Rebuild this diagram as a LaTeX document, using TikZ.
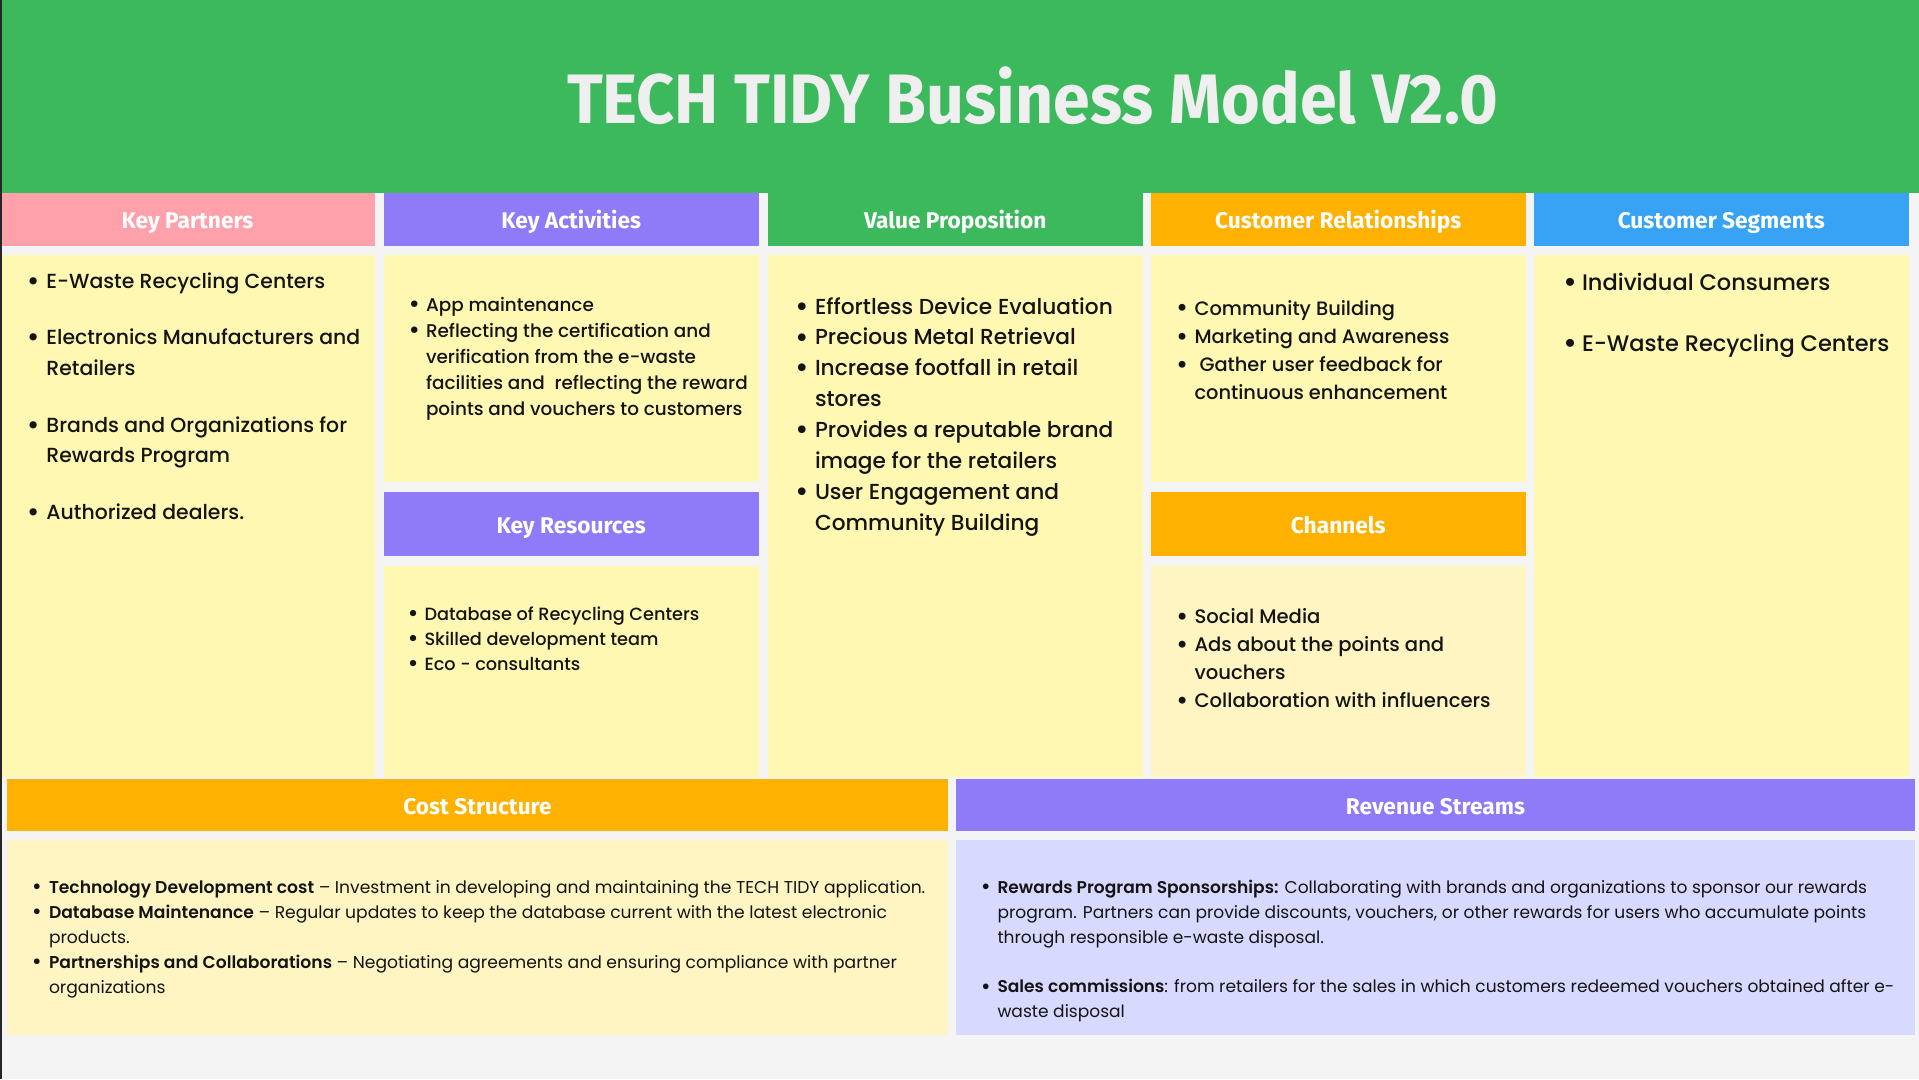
\documentclass[tikz,border=0pt]{standalone}
\usepackage{fontspec}
\usepackage{graphicx}
\setmainfont{Poppins}
\newfontfamily\medfont{Poppins Medium}
\newfontfamily\semifont{Poppins SemiBold}
\newfontfamily\headfont{Fira Sans}
\newfontfamily\titlefont[FakeStretch=0.947]{Fira Sans}

\definecolor{pagebg}{HTML}{F4F4F4}
\definecolor{topgreen}{HTML}{3CB95D}
\definecolor{kpink}{HTML}{FFA1AB}
\definecolor{kpurple}{HTML}{8F7AF8}
\definecolor{korange}{HTML}{FFB100}
\definecolor{kblue}{HTML}{38A3F5}
\definecolor{cellyellow}{HTML}{FFF8B2}
\definecolor{cellcream}{HTML}{FFF5C3}
\definecolor{celllav}{HTML}{D8D9FF}
\definecolor{titlegrey}{HTML}{EFEFEF}
\definecolor{ink}{HTML}{141414}

% bullet with hanging indent, and the indent for wrapped lines
\newcommand{\bul}[2]{\makebox[#1][l]{\raisebox{-0.1em}{\scalebox{1.35}{\textbullet}}}#2}
\newcommand{\ind}[1]{\hspace*{#1}}
\newcommand{\keyterm}[1]{{\semifont #1}}

\tikzset{
  box/.style={rectangle, inner sep=0pt, outer sep=0pt, anchor=north west, draw=none},
  hdr/.style={box, text=white, align=center,
    font=\headfont\bfseries\fontsize{22.7}{26}\selectfont,
    text height=18pt, text depth=0pt},
  % multi-line lists are anchored on the baseline of their last line
  items/.style={anchor=base west, inner sep=0pt, outer sep=0pt, align=left, text=ink},
}

\begin{document}
\begin{tikzpicture}[x=1pt, y=-1pt]
\useasboundingbox (0,0) rectangle (1919,1079);
\fill[pagebg] (0,0) rectangle (1919,1079);

% banner and title
\node[box, fill=topgreen, minimum width=1919pt, minimum height=193pt] (banner) at (0,0) {};
\node[anchor=base, inner sep=0pt, text=titlegrey,
      font=\titlefont\bfseries\fontsize{70}{80}\selectfont] (title) at (1032.5,123.3)
      {TECH TIDY Business Model V2.0};

% column headers
\node[hdr, fill=kpink,    minimum width=375pt,   minimum height=52.5pt] (kph) at (0,193)    {Key Partners};
\node[hdr, fill=kpurple,  minimum width=374.5pt, minimum height=52.5pt] (kah) at (384,193)  {Key Activities};
\node[hdr, fill=topgreen, minimum width=374.5pt, minimum height=52.5pt] (vph) at (768,193)  {Value Proposition};
\node[hdr, fill=korange,  minimum width=374.5pt, minimum height=52.5pt] (crh) at (1151,193) {Customer Relationships};
\node[hdr, fill=kblue,    minimum width=374.5pt, minimum height=52.5pt] (csh) at (1534,193) {Customer Segments};

% column bodies
\node[box, fill=cellyellow, minimum width=375pt,   minimum height=522pt] (kpb) at (0,255)    {};
\node[box, fill=cellyellow, minimum width=374.5pt, minimum height=227pt] (kab) at (384,255)  {};
\node[hdr, fill=kpurple,    minimum width=374.5pt, minimum height=64pt]  (krh) at (384,492)  {Key Resources};
\node[box, fill=cellyellow, minimum width=374.5pt, minimum height=211pt] (krb) at (384,566)  {};
\node[box, fill=cellyellow, minimum width=374.5pt, minimum height=522pt] (vpb) at (768,255)  {};
\node[box, fill=cellyellow, minimum width=374.5pt, minimum height=227pt] (crb) at (1151,255) {};
\node[hdr, fill=korange,    minimum width=374.5pt, minimum height=64pt]  (chh) at (1151,492) {Channels};
\node[box, fill=cellcream,  minimum width=374.5pt, minimum height=211pt] (chb) at (1151,566) {};
\node[box, fill=cellyellow, minimum width=374.5pt, minimum height=522pt] (csb) at (1534,255) {};

% bottom row
\node[hdr, fill=korange, minimum width=941pt, minimum height=52pt]  (cshd) at (7,779)   {Cost Structure};
\node[box, fill=cellcream, minimum width=941pt, minimum height=195pt] (csbd) at (7,840) {};
\node[hdr, fill=kpurple, minimum width=959pt, minimum height=52pt]  (rsh) at (956,779)  {Revenue Streams};
\node[box, fill=celllav, minimum width=959pt, minimum height=195pt] (rsb) at (956,840)  {};

% left edge rule
\fill[black!85] (0,0) rectangle (1.6,1079);

% ---- texts ----
\node[items, font=\medfont\fontsize{20.4}{30.6}\selectfont] (kpt) at (27,519.2) {%
\bul{19.5pt}{E-Waste Recycling Centers}\\[26pt]
\bul{19.5pt}{Electronics Manufacturers and}\\
\ind{19.5pt}Retailers\\[26pt]
\bul{19.5pt}{Brands and Organizations for}\\
\ind{19.5pt}Rewards Program\\[26pt]
\bul{19.5pt}{Authorized dealers.}};

\node[items, font=\medfont\fontsize{18.4}{26}\selectfont] (kat) at (408.5,415) {%
\bul{17.5pt}{App maintenance}\\
\bul{17.5pt}{Reflecting the certification and}\\
\ind{17.5pt}verification from the e-waste\\
\ind{17.5pt}facilities and\hspace{5pt} reflecting the reward\\
\ind{17.5pt}points and vouchers to customers};

\node[items, font=\medfont\fontsize{17.7}{25}\selectfont] (krt) at (407.5,670) {%
\bul{17pt}{Database of Recycling Centers}\\
\bul{17pt}{Skilled development team}\\
\bul{17pt}{Eco - consultants}};

\node[items, font=\medfont\fontsize{21.7}{30.9}\selectfont] (vpt) at (795,530.3) {%
\bul{20pt}{Effortless Device Evaluation}\\
\bul{20pt}{Precious Metal Retrieval}\\
\bul{20pt}{Increase footfall in retail}\\
\ind{20pt}stores\\
\bul{20pt}{Provides a reputable brand}\\
\ind{20pt}image for the retailers\\
\bul{20pt}{User Engagement and}\\
\ind{20pt}Community Building};

\node[items, font=\medfont\fontsize{19.4}{28.2}\selectfont] (crt) at (1176,399.6) {%
\bul{18.5pt}{Community Building}\\
\bul{18.5pt}{Marketing and Awareness}\\
\bul{18.5pt}{\hspace*{5pt}Gather user feedback for}\\
\ind{18.5pt}continuous enhancement};

\node[items, font=\medfont\fontsize{19.6}{28}\selectfont] (cht) at (1176,707.5) {%
\bul{18.5pt}{Social Media}\\
\bul{18.5pt}{Ads about the points and}\\
\ind{18.5pt}vouchers\\
\bul{18.5pt}{Collaboration with influencers}};

\node[items, font=\medfont\fontsize{22.5}{30}\selectfont] (cst) at (1563.5,351) {%
\bul{18.5pt}{Individual Consumers}\\[31pt]
\bul{18.5pt}{E-Waste Recycling Centers}};

\node[items, font=\fontsize{17.15}{25}\selectfont] (cost) at (32,993) {%
\bul{17pt}{\keyterm{Technology Development cost} – Investment in developing and maintaining the TECH TIDY application.}\\
\bul{17pt}{\keyterm{Database Maintenance} – Regular updates to keep the database current with the latest electronic}\\
\ind{17pt}products.\\
\bul{17pt}{\keyterm{Partnerships and Collaborations} – Negotiating agreements and ensuring compliance with partner}\\
\ind{17pt}organizations};

\node[items, font=\fontsize{17.05}{25}\selectfont] (rev) at (981,1017.3) {%
\bul{16.5pt}{\keyterm{Rewards Program Sponsorships:} Collaborating with brands and organizations to sponsor our rewards}\\
\ind{16.5pt}program. Partners can provide discounts, vouchers, or other rewards for users who accumulate points\\
\ind{16.5pt}through responsible e-waste disposal.\\[24.3pt]
\bul{16.5pt}{\keyterm{Sales commissions}: from retailers for the sales in which customers redeemed vouchers obtained after e-}\\
\ind{16.5pt}waste disposal};
\end{tikzpicture}
\end{document}
